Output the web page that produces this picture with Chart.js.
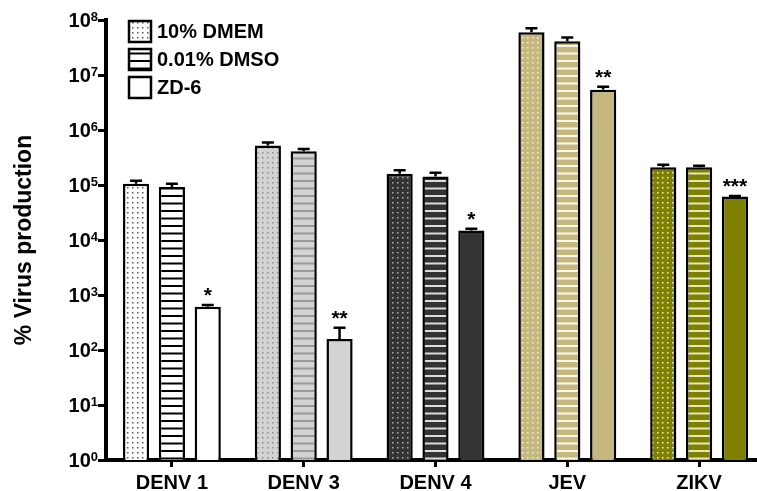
<!DOCTYPE html>
<html>
<head>
<meta charset="utf-8">
<script src="https://cdn.jsdelivr.net/npm/chart.js@4.4.1/dist/chart.umd.min.js"></script>
<style>
  html, body { margin: 0; padding: 0; background: #fff; overflow: hidden; }
  canvas { display: block; }
</style>
</head>
<body>
<canvas id="chartVirus" width="766" height="491"></canvas>
<script>
const categories = ['DENV 1', 'DENV 3', 'DENV 4', 'JEV', 'ZIKV'];
const seriesNames = ['10% DMEM', '0.01% DMSO', 'ZD-6'];

// bar heights (mean) and top of error bar
const dmem = [1.05e5, 5.25e5, 1.6e5, 6.0e7, 2.1e5];
const dmemErr = [1.2e5, 5.9e5, 1.85e5, 7.1e7, 2.34e5];
const dmso = [9.2e4, 4.1e5, 1.42e5, 4.1e7, 2.1e5];
const dmsoErr = [1.05e5, 4.5e5, 1.67e5, 4.8e7, 2.25e5];
const zd6 = [610, 159, 1.49e4, 5.4e6, 6.2e4];
const zd6Err = [660, 253, 1.6e4, 6.1e6, 6.3e4];
const stars = ['*', '**', '*', '**', '***'];

const yExponents = [0, 1, 2, 3, 4, 5, 6, 7, 8];

const FONT = '"Liberation Sans", Arial, Helvetica, sans-serif';

// fill colour per virus: [background, dot colour, line colour]
const palette = [
  ['#ffffff', '#555555', '#000000'],
  ['#d3d3d3', '#8c8c8c', '#999999'],
  ['#333333', '#b0b0b0', '#dcdcdc'],
  ['#c4b87f', '#f4f0dc', '#fbf8ea'],
  ['#808000', '#f2f2d0', '#e6e6bc']
];

function _pattern(bg, fg, kind) {
  const c = document.createElement('canvas');
  const g = c.getContext('2d');
  if (kind === 'dots') {
    c.width = 5; c.height = 5;
    g.fillStyle = bg; g.fillRect(0, 0, 5, 5);
    g.fillStyle = fg; g.fillRect(2, 2, 1.5, 1.5);
  } else if (kind === 'lines') {
    c.width = 4; c.height = 15;
    g.fillStyle = bg; g.fillRect(0, 0, 4, 15);
    g.fillStyle = fg; g.fillRect(0, 0, 4, 2); g.fillRect(0, 7.5, 4, 2);
  } else {
    return bg;
  }
  return g.createPattern(c, 'repeat');
}

const ctx = document.getElementById('chartVirus').getContext('2d');
const kinds = ['dots', 'lines', 'solid'];
const means = [dmem, dmso, zd6];
const errs = [dmemErr, dmsoErr, zd6Err];

const datasets = seriesNames.map((name, i) => ({
  label: name,
  data: means[i],
  errTop: errs[i],
  backgroundColor: palette.map(p => _pattern(p[0], kinds[i] === 'dots' ? p[1] : p[2], kinds[i])),
  borderColor: '#000',
  borderWidth: 2.5,
  categoryPercentage: 0.816,
  barPercentage: 0.73
}));

const extrasPlugin = {
  id: 'extras',
  afterDatasetsDraw(chart) {
    const c = chart.ctx;
    const y = chart.scales.y;
    c.save();
    c.strokeStyle = '#000';
    c.lineWidth = 2.5;
    chart.data.datasets.forEach((ds, di) => {
      chart.getDatasetMeta(di).data.forEach((bar, i) => {
        const top = y.getPixelForValue(ds.errTop[i]);
        c.beginPath();
        c.moveTo(bar.x, bar.y);
        c.lineTo(bar.x, top);
        c.moveTo(bar.x - 6, top);
        c.lineTo(bar.x + 6, top);
        c.stroke();
        if (di === 2) {
          c.fillStyle = '#000';
          c.font = 'bold 21px ' + FONT;
          c.textAlign = 'center';
          c.textBaseline = 'alphabetic';
          c.fillText(stars[i], bar.x, top - 3);
        }
      });
    });
    c.restore();
  },
  afterDraw(chart) {
    const c = chart.ctx;
    const y = chart.scales.y;
    c.save();
    c.fillStyle = '#000';
    // y tick labels 10^n
    yExponents.forEach(k => {
      const py = y.getPixelForValue(Math.pow(10, k));
      c.font = 'bold 13px ' + FONT;
      c.textAlign = 'right';
      c.textBaseline = 'alphabetic';
      const ex = String(k);
      const ew = c.measureText(ex).width;
      c.fillText(ex, 98, py + 1);
      c.font = 'bold 20px ' + FONT;
      c.fillText('10', 98 - ew, py + 7);
    });
    // legend
    seriesNames.forEach((name, i) => {
      const bx = 129, by = 21 + i * 28;
      c.fillStyle = _pattern('#ffffff', i === 0 ? '#555555' : '#000000', kinds[i]);
      c.fillRect(bx, by, 22, 21);
      c.strokeStyle = '#000';
      c.lineWidth = 2.5;
      c.strokeRect(bx, by, 22, 21);
      c.fillStyle = '#000';
      c.font = 'bold 20px ' + FONT;
      c.textAlign = 'left';
      c.textBaseline = 'middle';
      c.fillText(name, 157, by + 11);
    });
    c.restore();
  }
};

new Chart(ctx, {
  type: 'bar',
  data: { labels: categories, datasets },
  options: {
    responsive: false,
    animation: false,
    layout: { padding: { top: 20, left: 0, right: 1, bottom: 0 } },
    plugins: { legend: { display: false }, tooltip: { enabled: false } },
    scales: {
      x: {
        grid: { display: true, drawOnChartArea: false, offset: false, drawTicks: true, tickLength: 7, lineWidth: 3, color: '#000' },
        border: { display: true, width: 4, color: '#000' },
        ticks: { color: '#000', font: { family: FONT, size: 20, weight: 'bold' }, padding: 4, maxRotation: 0 },
        afterFit: s => { s.height = 31; }
      },
      y: {
        type: 'logarithmic',
        min: 1,
        max: 1e8,
        grid: { display: true, drawOnChartArea: false, drawTicks: true, tickLength: 8, lineWidth: 3, color: '#000' },
        border: { display: true, width: 4, color: '#000' },
        ticks: { display: false },
        title: { display: true, text: '% Virus production', color: '#000', font: { family: FONT, size: 23, weight: 'bold' }, padding: { top: 11, bottom: 0 } },
        afterBuildTicks: s => { s.ticks = yExponents.map(k => ({ value: Math.pow(10, k) })); },
        afterFit: s => { s.width = 106; }
      }
    }
  },
  plugins: [extrasPlugin]
});
</script>
</body>
</html>
